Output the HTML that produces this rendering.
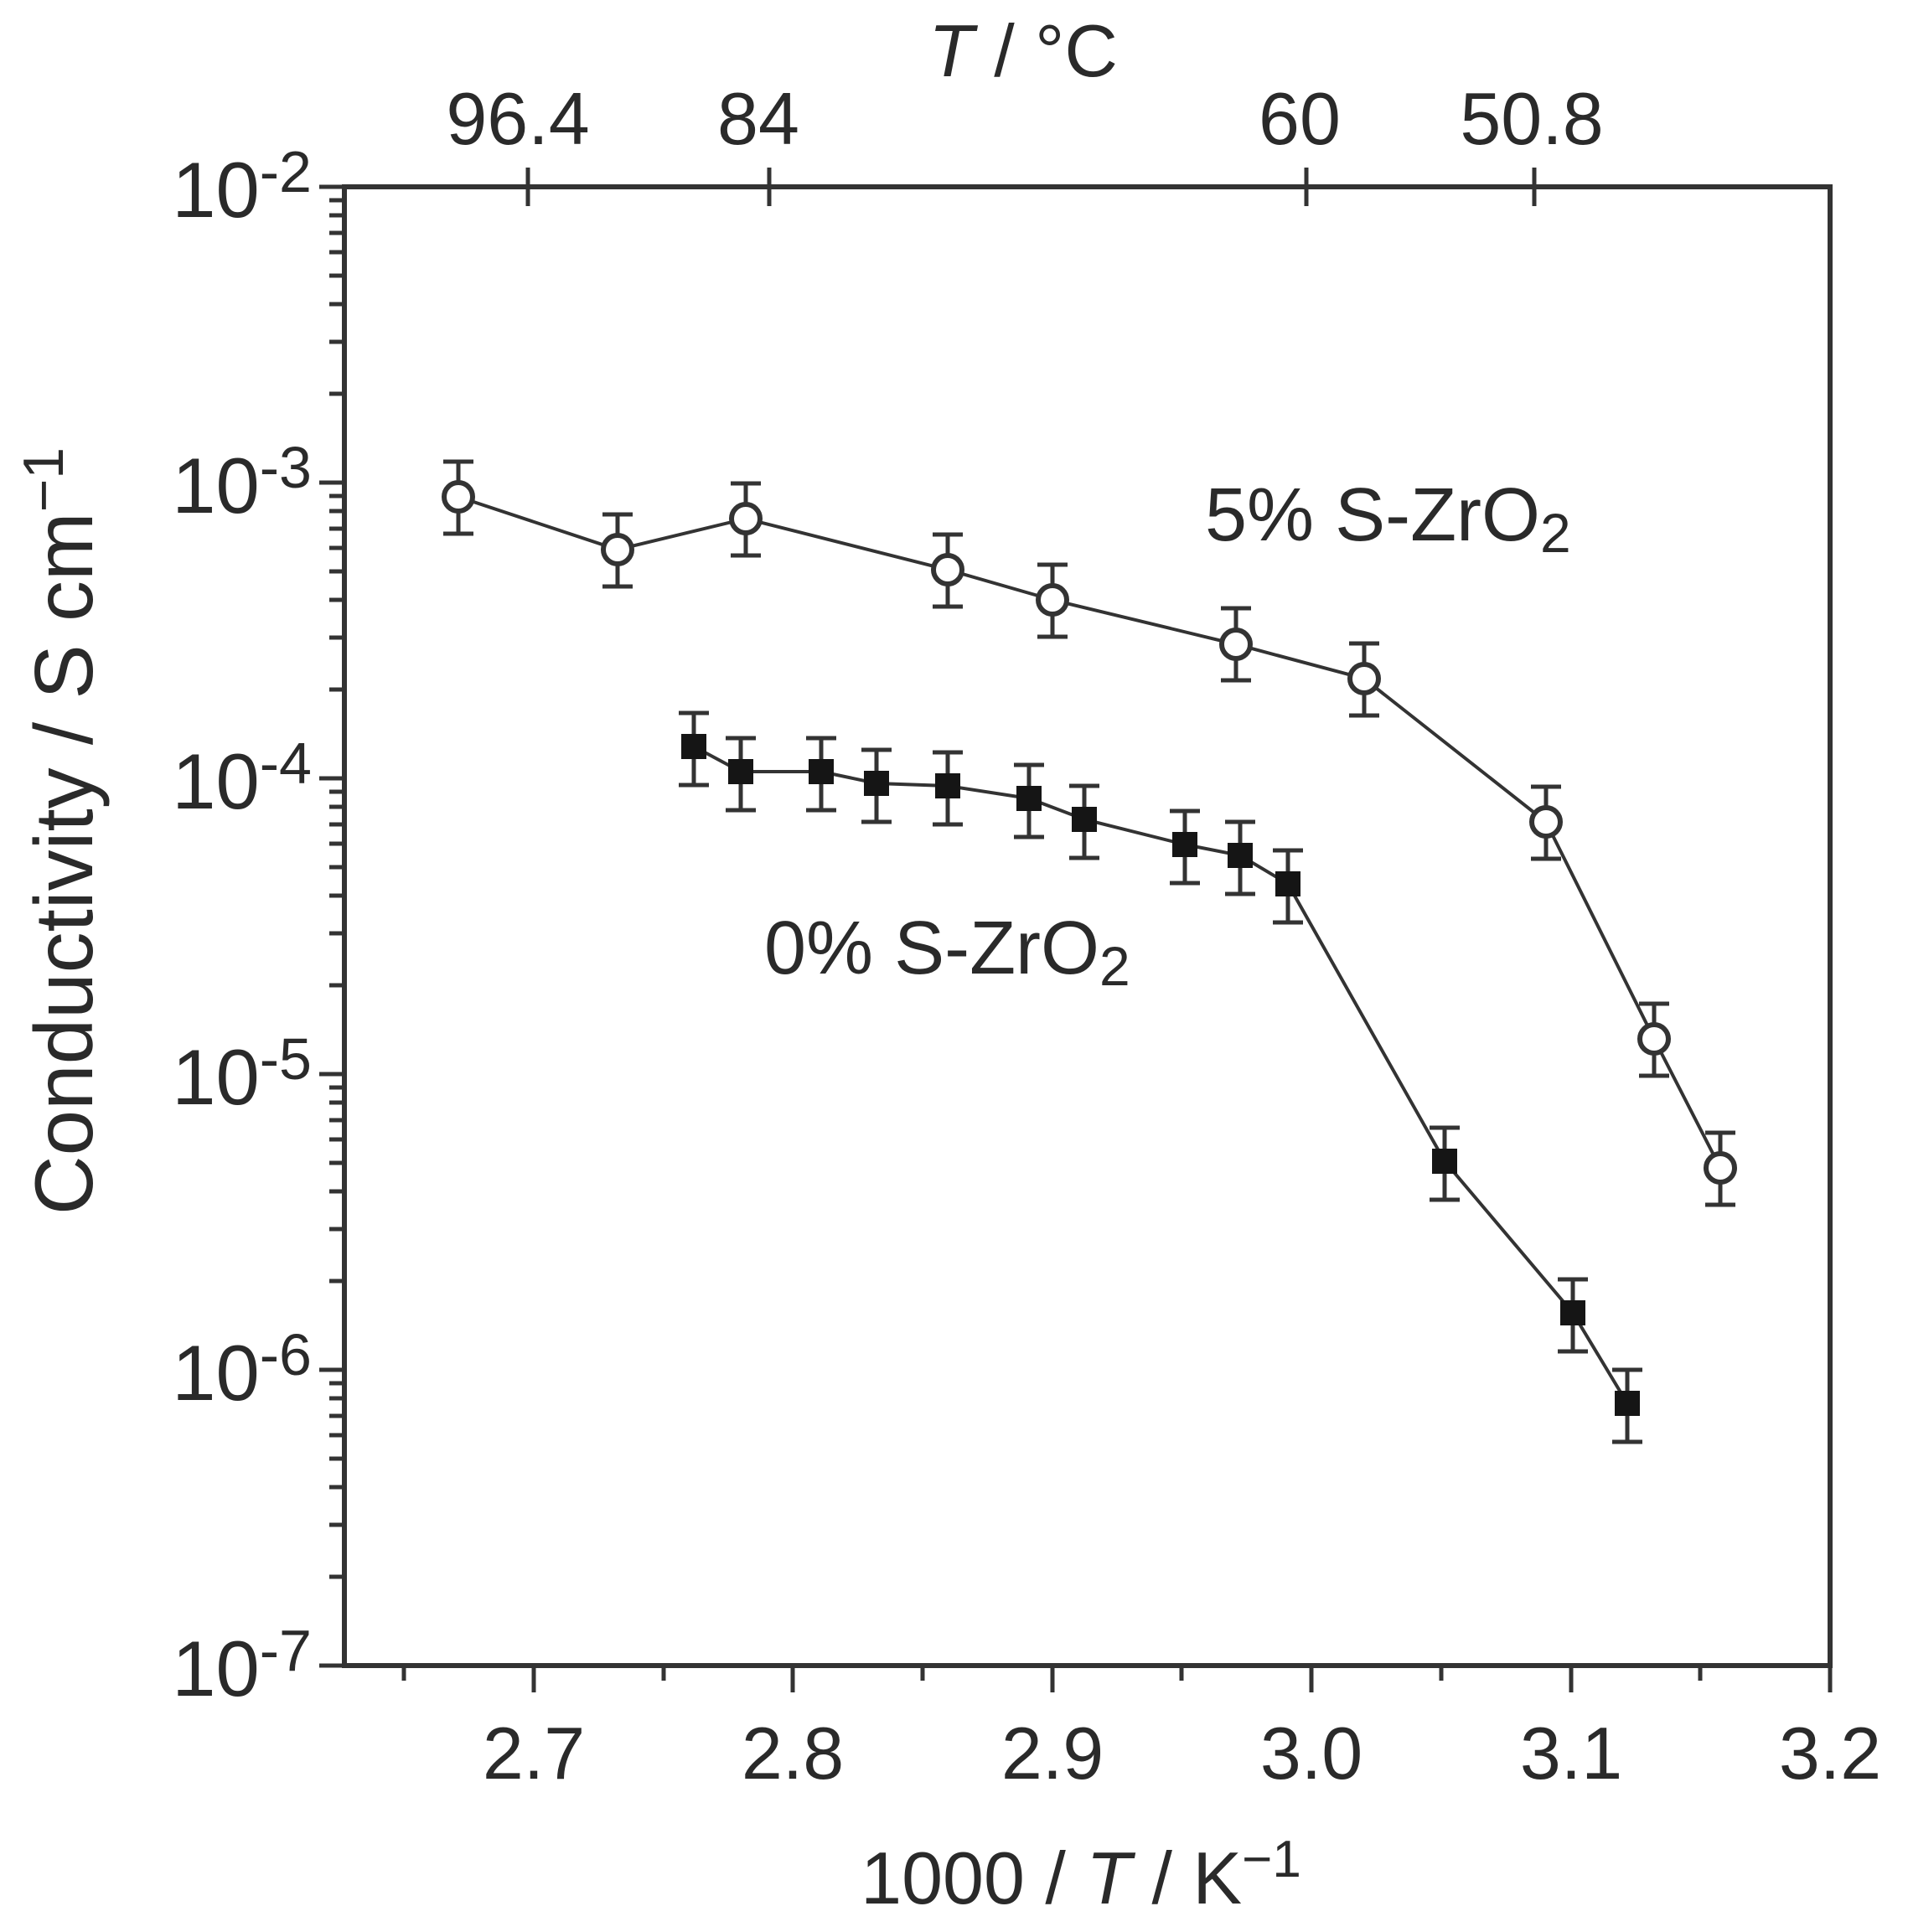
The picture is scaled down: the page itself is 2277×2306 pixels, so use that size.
<!DOCTYPE html>
<html><head><meta charset="utf-8"><style>html,body{margin:0;padding:0;background:#fff}svg{display:block}</style></head>
<body>
<svg width="2277" height="2306" viewBox="0 0 2277 2306" xmlns="http://www.w3.org/2000/svg" font-family="Liberation Sans, sans-serif" fill="#2a2a2a">
<defs>
<g id="minL" stroke="#333" stroke-width="5">
<line x1="393" y1="-106" x2="411" y2="-106"/><line x1="393" y1="-168" x2="411" y2="-168"/>
<line x1="393" y1="-213" x2="411" y2="-213"/><line x1="393" y1="-247" x2="411" y2="-247"/>
<line x1="393" y1="-275" x2="411" y2="-275"/><line x1="393" y1="-298" x2="411" y2="-298"/>
<line x1="393" y1="-319" x2="411" y2="-319"/><line x1="393" y1="-337" x2="411" y2="-337"/>
</g>
</defs>
<g stroke="#333" stroke-width="6" fill="none">
<rect x="411" y="223" width="1773" height="1765"/>
</g>
<g stroke="#333" stroke-width="5">
<line x1="381" y1="223" x2="411" y2="223"/><line x1="381" y1="576" x2="411" y2="576"/>
<line x1="381" y1="929" x2="411" y2="929"/><line x1="381" y1="1282" x2="411" y2="1282"/>
<line x1="381" y1="1635" x2="411" y2="1635"/><line x1="381" y1="1988" x2="411" y2="1988"/>
<line x1="637" y1="1988" x2="637" y2="2020"/><line x1="946" y1="1988" x2="946" y2="2020"/>
<line x1="1256" y1="1988" x2="1256" y2="2020"/><line x1="1565" y1="1988" x2="1565" y2="2020"/>
<line x1="1875" y1="1988" x2="1875" y2="2020"/><line x1="2184" y1="1988" x2="2184" y2="2020"/>
<line x1="482" y1="1988" x2="482" y2="2006"/><line x1="792" y1="1988" x2="792" y2="2006"/>
<line x1="1101" y1="1988" x2="1101" y2="2006"/><line x1="1410" y1="1988" x2="1410" y2="2006"/>
<line x1="1720" y1="1988" x2="1720" y2="2006"/><line x1="2029" y1="1988" x2="2029" y2="2006"/>
<line x1="630" y1="200" x2="630" y2="246"/><line x1="918" y1="200" x2="918" y2="246"/>
<line x1="1559" y1="200" x2="1559" y2="246"/><line x1="1831" y1="200" x2="1831" y2="246"/>
</g>
<use href="#minL" transform="translate(0,576)"/>
<use href="#minL" transform="translate(0,929)"/>
<use href="#minL" transform="translate(0,1282)"/>
<use href="#minL" transform="translate(0,1635)"/>
<use href="#minL" transform="translate(0,1988)"/>

<g font-size="94" text-anchor="end">
<text x="372" y="259">10<tspan font-size="70" dy="-30">-2</tspan></text>
<text x="372" y="612">10<tspan font-size="70" dy="-30">-3</tspan></text>
<text x="372" y="965">10<tspan font-size="70" dy="-30">-4</tspan></text>
<text x="372" y="1318">10<tspan font-size="70" dy="-30">-5</tspan></text>
<text x="372" y="1671">10<tspan font-size="70" dy="-30">-6</tspan></text>
<text x="372" y="2024">10<tspan font-size="70" dy="-30">-7</tspan></text>
</g>
<g font-size="88" text-anchor="middle">
<text x="637" y="2123">2.7</text><text x="946" y="2123">2.8</text><text x="1256" y="2123">2.9</text>
<text x="1565" y="2123">3.0</text><text x="1875" y="2123">3.1</text><text x="2184" y="2123">3.2</text>
<text x="618" y="172">96.4</text><text x="905" y="172">84</text><text x="1551" y="172">60</text><text x="1828" y="172">50.8</text>
<text x="1221" y="91"><tspan font-style="italic">T</tspan> / °C</text>
<text x="1290" y="2272">1000 / <tspan font-style="italic">T</tspan> / K<tspan font-size="62" dy="-32">−1</tspan></text>
<text font-size="98" transform="translate(110,992) rotate(-90)">Conductivity / S cm<tspan font-size="68" dy="-35">−1</tspan></text>
</g>
<g font-size="90">
<text x="1438" y="645">5% S-ZrO<tspan font-size="66" dy="14">2</tspan></text>
<text x="912" y="1162">0% S-ZrO<tspan font-size="66" dy="14">2</tspan></text>
</g>

<g stroke="#333" stroke-width="4" fill="none">
<polyline points="547,593 737,656 890,619 1131,680 1256,716 1475,769 1628,810 1845,981 1974,1240 2053,1394"/>
<polyline points="828,891 884,921 980,921 1046,935 1131,938 1228,953 1294,978 1414,1008 1480,1021 1537,1055 1724,1386 1877,1567 1942,1675"/>
</g>
<g stroke="#333" stroke-width="5" fill="none">
<path d="M547,551V637M529,551H565M529,637H565
M737,614V700M719,614H755M719,700H755
M890,577V663M872,577H908M872,663H908
M1131,638V724M1113,638H1149M1113,724H1149
M1256,674V760M1238,674H1274M1238,760H1274
M1475,726V812M1457,726H1493M1457,812H1493
M1628,768V854M1610,768H1646M1610,854H1646
M1845,939V1025M1827,939H1863M1827,1025H1863
M1974,1198V1284M1956,1198H1992M1956,1284H1992
M2053,1352V1438M2035,1352H2071M2035,1438H2071"/>
<path d="M828,851V937M810,851H846M810,937H846
M884,881V967M866,881H902M866,967H902
M980,881V967M962,881H998M962,967H998
M1046,895V981M1028,895H1064M1028,981H1064
M1131,898V984M1113,898H1149M1113,984H1149
M1228,913V999M1210,913H1246M1210,999H1246
M1294,938V1024M1276,938H1312M1276,1024H1312
M1414,968V1054M1396,968H1432M1396,1054H1432
M1480,981V1067M1462,981H1498M1462,1067H1498
M1537,1015V1101M1519,1015H1555M1519,1101H1555
M1724,1346V1432M1706,1346H1742M1706,1432H1742
M1877,1527V1613M1859,1527H1895M1859,1613H1895
M1942,1635V1721M1924,1635H1960M1924,1721H1960"/>
</g>
<g stroke="#333" stroke-width="6" fill="#fff">
<circle cx="547" cy="593" r="17"/><circle cx="737" cy="656" r="17"/><circle cx="890" cy="619" r="17"/>
<circle cx="1131" cy="680" r="17"/><circle cx="1256" cy="716" r="17"/><circle cx="1475" cy="769" r="17"/>
<circle cx="1628" cy="810" r="17"/><circle cx="1845" cy="981" r="17"/><circle cx="1974" cy="1240" r="17"/>
<circle cx="2053" cy="1394" r="17"/>
</g>
<g fill="#151515">
<rect x="813" y="876" width="30" height="30"/><rect x="869" y="906" width="30" height="30"/>
<rect x="965" y="906" width="30" height="30"/><rect x="1031" y="920" width="30" height="30"/>
<rect x="1116" y="923" width="30" height="30"/><rect x="1213" y="938" width="30" height="30"/>
<rect x="1279" y="963" width="30" height="30"/><rect x="1399" y="993" width="30" height="30"/>
<rect x="1465" y="1006" width="30" height="30"/><rect x="1522" y="1040" width="30" height="30"/>
<rect x="1709" y="1371" width="30" height="30"/><rect x="1862" y="1552" width="30" height="30"/>
<rect x="1927" y="1660" width="30" height="30"/>
</g>
</svg>
</body></html>
